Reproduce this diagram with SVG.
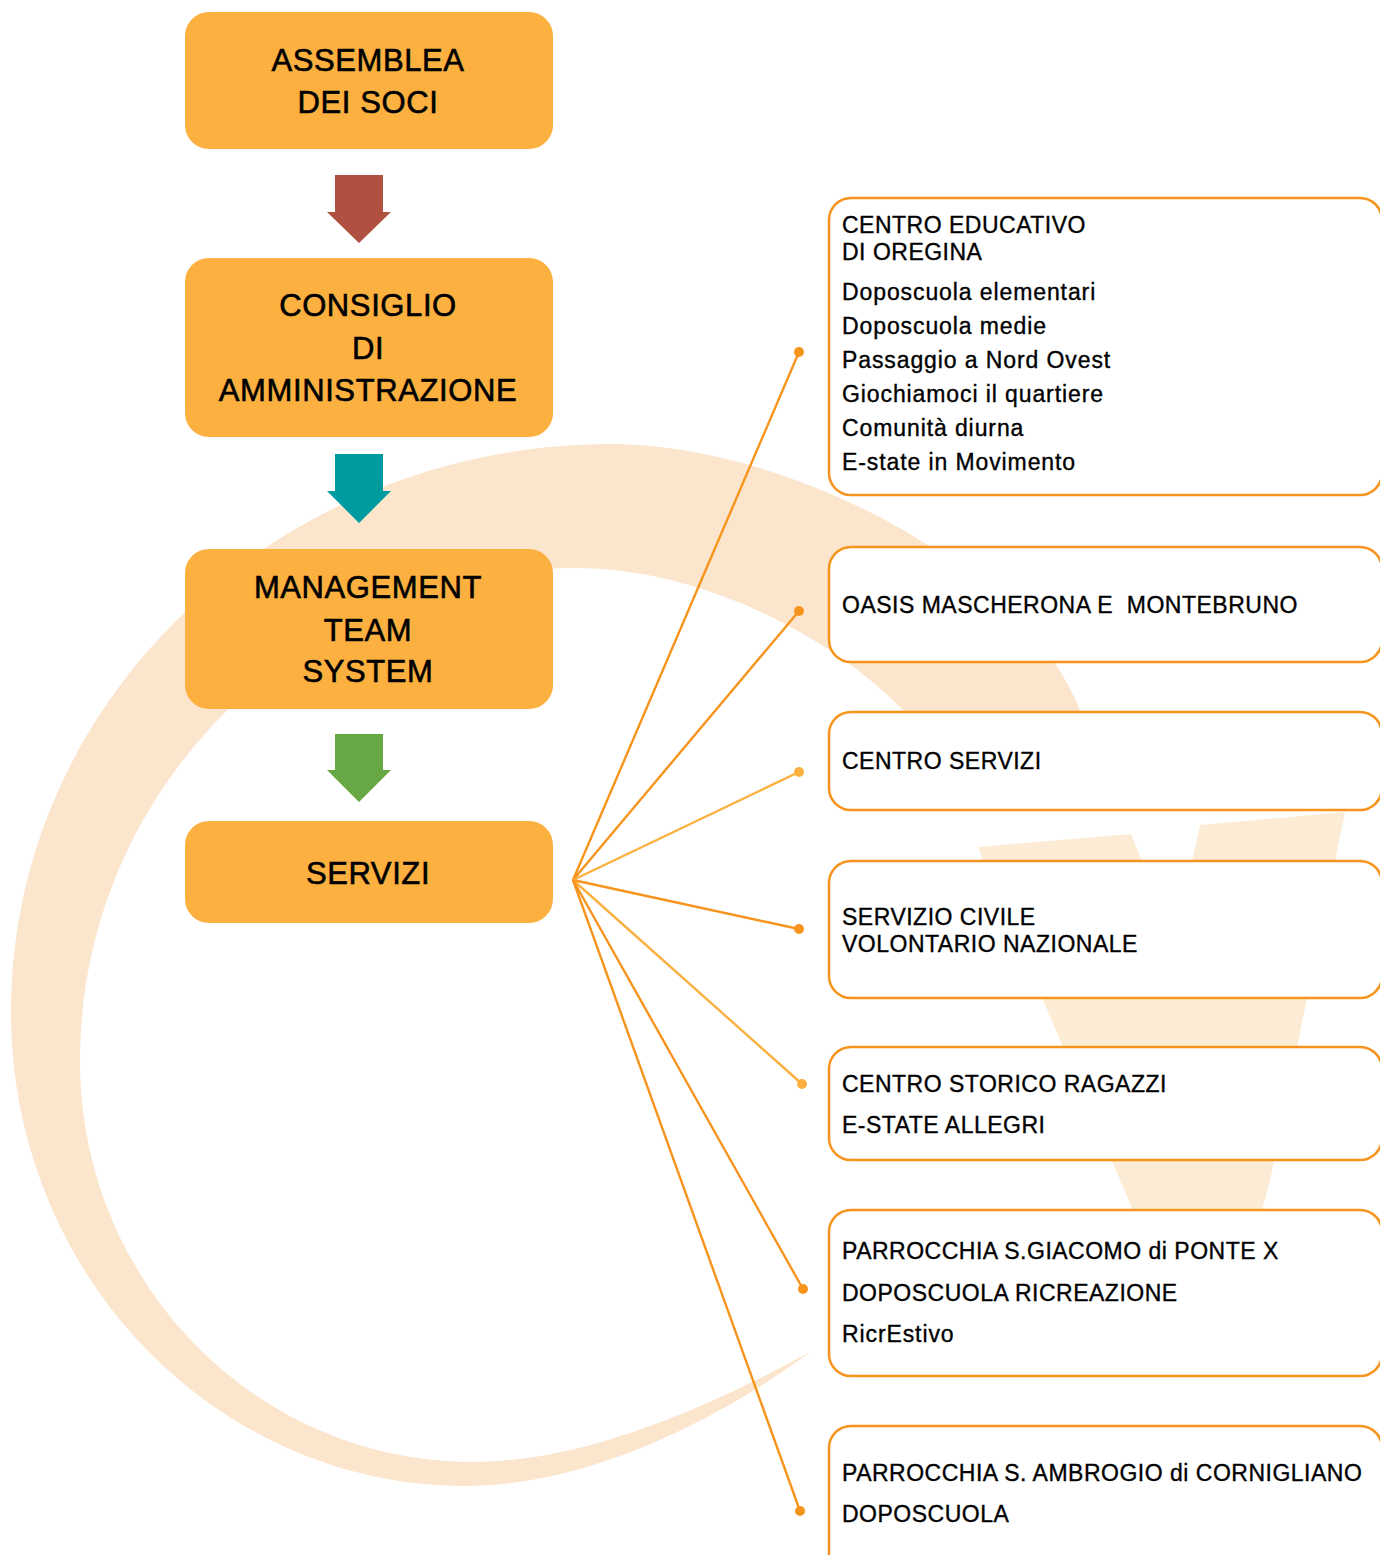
<svg xmlns="http://www.w3.org/2000/svg" width="1380" height="1555" viewBox="0 0 1380 1555">
<style>
.lb{fill:#FBB040}
.lt{font-family:"Liberation Sans",Arial,sans-serif;font-size:31px;fill:#000;stroke:#000;stroke-width:0.6;text-anchor:middle;letter-spacing:0.6px}
.rb{fill:#fff;stroke:#F7941D;stroke-width:2.5}
.rt{font-family:"Liberation Sans",Arial,sans-serif;font-size:23px;fill:#000;stroke:#000;stroke-width:0.35;letter-spacing:0.5px}
.rm{letter-spacing:0.9px}
.cd{stroke:#F7941D;stroke-width:2.4;fill:none}
.cl{stroke:#FBB040;stroke-width:2.4;fill:none}
.dd{fill:#F7941D}
.dl{fill:#FBB040}
</style>
<rect width="1380" height="1555" fill="#fff"/>
<g id="background">
<path d="M 810,1352 C 740,1405 600,1486 466,1486 C 215,1486 11,1274 11,1012 C 11,698 280,444 612,444 C 780,444 1020,560 1080,710 L 1120,800 L 960,800 L 903,710 C 830,635 700,568 575,568 C 302,568 80,789 80,1061 C 80,1282 256,1462 472,1462 C 580,1462 700,1412 810,1352 Z" fill="#FCE5CD"/>
<path d="M 978,847 L 1131,834 L 1175,940 L 1200,825 L 1345,812 L 1274,1160 Q 1268,1195 1255,1230 L 1150,1250 L 983,860 Z" fill="#FDECD5"/>
</g>
<g id="arrows">
<polygon points="335,175 383,175 383,212 391,212 359,243 327,212 335,212" fill="#B05040"/>
<polygon points="335,454 383,454 383,491 391,491 359,523 327,491 335,491" fill="#009B9E"/>
<polygon points="335,734 383,734 383,770 391,770 359,802 327,770 335,770" fill="#66A844"/>
</g>
<g id="connectors">
<line class="cd" x1="573" y1="880" x2="799" y2="352"/>
<line class="cd" x1="573" y1="880" x2="799" y2="611"/>
<line class="cl" x1="573" y1="880" x2="799" y2="772"/>
<line class="cd" x1="573" y1="880" x2="799" y2="929"/>
<line class="cl" x1="573" y1="880" x2="802" y2="1084"/>
<line class="cd" x1="573" y1="880" x2="803" y2="1289"/>
<line class="cd" x1="573" y1="880" x2="800" y2="1511"/>
<circle class="dd" cx="799" cy="352" r="5"/>
<circle class="dd" cx="799" cy="611" r="5"/>
<circle class="dl" cx="799" cy="772" r="5"/>
<circle class="dd" cx="799" cy="929" r="5"/>
<circle class="dl" cx="802" cy="1084" r="5"/>
<circle class="dd" cx="803" cy="1289" r="5"/>
<circle class="dd" cx="800" cy="1511" r="5"/>
</g>
<g id="assemblea">
<rect class="lb" x="185" y="12" width="368" height="137" rx="24"/>
<text class="lt" x="368" y="71">ASSEMBLEA</text>
<text class="lt" x="368" y="113">DEI SOCI</text>
</g>
<g id="consiglio">
<rect class="lb" x="185" y="258" width="368" height="179" rx="24"/>
<text class="lt" x="368" y="316">CONSIGLIO</text>
<text class="lt" x="368" y="359">DI</text>
<text class="lt" x="368" y="401">AMMINISTRAZIONE</text>
</g>
<g id="management">
<rect class="lb" x="185" y="549" width="368" height="160" rx="24"/>
<text class="lt" x="368" y="598">MANAGEMENT</text>
<text class="lt" x="368" y="641">TEAM</text>
<text class="lt" x="368" y="682">SYSTEM</text>
</g>
<g id="servizi">
<rect class="lb" x="185" y="821" width="368" height="102" rx="24"/>
<text class="lt" x="368" y="884">SERVIZI</text>
</g>
<g id="centro-educativo">
<rect class="rb" x="829" y="198" width="553" height="297" rx="22"/>
<text class="rt" x="842" y="233">CENTRO EDUCATIVO</text>
<text class="rt" x="842" y="260">DI OREGINA</text>
<text class="rt rm" x="842" y="300">Doposcuola elementari</text>
<text class="rt rm" x="842" y="334">Doposcuola medie</text>
<text class="rt rm" x="842" y="368">Passaggio a Nord Ovest</text>
<text class="rt rm" x="842" y="402">Giochiamoci il quartiere</text>
<text class="rt rm" x="842" y="436">Comunità diurna</text>
<text class="rt rm" x="842" y="470">E-state in Movimento</text>
</g>
<g id="oasis">
<rect class="rb" x="829" y="547" width="553" height="115" rx="22"/>
<text class="rt" x="842" y="613" style="white-space:pre">OASIS MASCHERONA E  MONTEBRUNO</text>
</g>
<g id="centro-servizi">
<rect class="rb" x="829" y="712" width="553" height="98" rx="22"/>
<text class="rt" x="842" y="769">CENTRO SERVIZI</text>
</g>
<g id="servizio-civile">
<rect class="rb" x="829" y="861" width="553" height="137" rx="22"/>
<text class="rt" x="842" y="925">SERVIZIO CIVILE</text>
<text class="rt" x="842" y="952">VOLONTARIO NAZIONALE</text>
</g>
<g id="centro-storico">
<rect class="rb" x="829" y="1047" width="553" height="113" rx="22"/>
<text class="rt" x="842" y="1092">CENTRO STORICO RAGAZZI</text>
<text class="rt" x="842" y="1133">E-STATE ALLEGRI</text>
</g>
<g id="parrocchia-giacomo">
<rect class="rb" x="829" y="1210" width="553" height="166" rx="22"/>
<text class="rt" x="842" y="1259">PARROCCHIA S.GIACOMO di PONTE X</text>
<text class="rt" x="842" y="1301">DOPOSCUOLA RICREAZIONE</text>
<text class="rt rm" x="842" y="1342">RicrEstivo</text>
</g>
<g id="parrocchia-ambrogio">
<rect class="rb" x="829" y="1426" width="553" height="160" rx="22"/>
<text class="rt" x="842" y="1481">PARROCCHIA S. AMBROGIO di CORNIGLIANO</text>
<text class="rt" x="842" y="1522">DOPOSCUOLA</text>
</g>
</svg>
